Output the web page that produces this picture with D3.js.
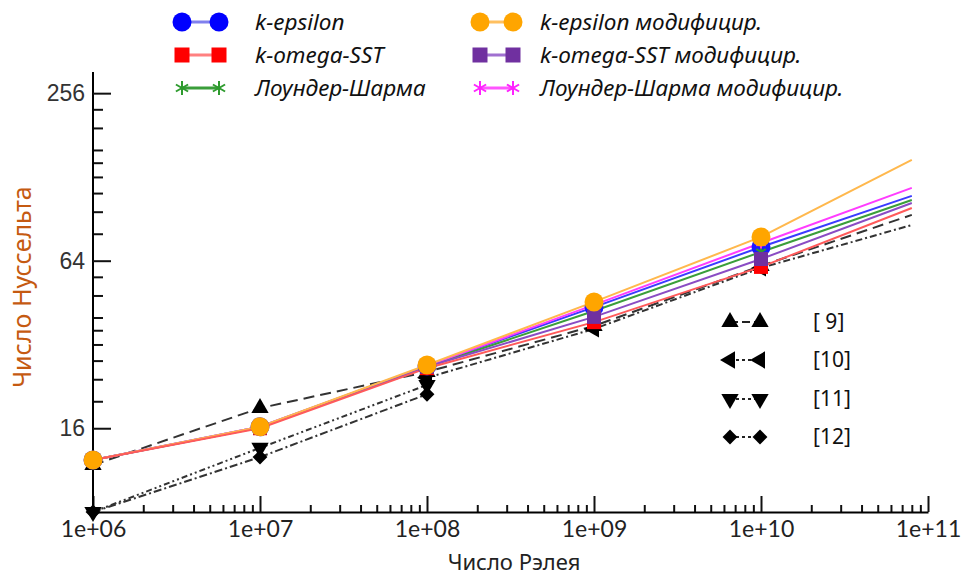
<!DOCTYPE html>
<html>
<head>
<meta charset="utf-8">
<script src="https://cdn.jsdelivr.net/npm/d3@7"></script>
<style>
  html, body { margin: 0; padding: 0; background: #fff; }
  svg { display: block; }
</style>
</head>
<body>
<svg id="chart" width="963" height="579"></svg>
<script>
// ---------------- DATA ----------------
const raPoints = [1e6, 1e7, 1e8, 1e9, 1e10, 8e10];
const kEpsilon         = [12.3, 16.2, 26.8, 43.6, 71.7, 109.4];
const kOmegaSST        = [12.3, 16.0, 26.3, 38.5, 60.8, 99.0];
const launderSharma    = [12.3, 16.1, 26.6, 42.2, 68.8, 105.8];
const kEpsilonMod      = [12.3, 16.2, 27.0, 45.5, 77.9, 147.4];
const kOmegaSSTMod     = [12.3, 16.1, 26.6, 40.2, 64.9, 103.2];
const launderSharmaMod = [12.3, 16.2, 26.8, 44.4, 74.1, 116.9];

const ref9Ra  = [1e6, 1e7, 1e8, 1e9, 1e10, 8e10];
const ref9    = [11.8, 18.9, 25.5, 37.3, 61.3, 93.5];
const ref10Ra = [1e8, 1e9, 1e10, 8e10];
const ref10   = [24.3, 36.4, 60.3, 86.0];
const ref11Ra = [1e6, 1e7, 1e8];
const ref11   = [8.0, 13.6, 22.9];
const ref12Ra = [1e6, 1e7, 1e8];
const ref12   = [8.0, 12.6, 21.2];

const xMajorTicks = [1e6, 1e7, 1e8, 1e9, 1e10, 1e11];
const xTickLabels = ["1e+06", "1e+07", "1e+08", "1e+09", "1e+10", "1e+11"];
const yMajorTicks = [16, 64, 256];
const yTickLabels = ["16", "64", "256"];
const yMinorTicks = [20, 24, 28, 32, 36, 40, 48, 56, 80, 96, 112, 128, 144, 160, 192, 224];

const seriesNames = ["k-epsilon", "k-omega-SST", "Лоундер-Шарма",
                     "k-epsilon  модифицир.", "k-omega-SST  модифицир.", "Лоундер-Шарма модифицир."];
const refNames = ["[ 9]", "[10]", "[11]", "[12]"];
const xTitle = "Число Рэлея";
const yTitle = "Число Нуссельта";

// ---------------- SETUP ----------------
const svg = d3.select("#chart");
const X0 = 93, X1 = 928, Y0 = 512, Y1 = 72;
const x = d3.scaleLog().domain([1e6, 1e11]).range([X0, X1]);
const y = d3.scaleLog().base(2).domain([8, 305]).range([Y0, Y1]);

// axes
const xMinor = [];
for (let e = 6; e < 11; e++) for (let m = 2; m <= 9; m++) xMinor.push(m * Math.pow(10, e));

const gx = svg.append("g").attr("transform", `translate(0,${Y0})`);
gx.call(d3.axisBottom(x).tickValues(xMinor).tickFormat("").tickSizeInner(-7).tickSizeOuter(0));
gx.call(g => g.select(".domain").remove());
const gx2 = svg.append("g").attr("transform", `translate(0,${Y0})`);
gx2.call(d3.axisBottom(x).tickValues(xMajorTicks)
  .tickFormat((d, i) => xTickLabels[i]).tickSizeInner(-16).tickSizeOuter(0).tickPadding(9));
gx2.select(".domain").attr("stroke-width", 2);
gx2.selectAll("text").attr("font-family", "Lato, 'Open Sans', sans-serif")
   .attr("font-size", 23).attr("fill", "#222");

const gy = svg.append("g").attr("transform", `translate(${X0},0)`);
gy.call(d3.axisLeft(y).tickValues(yMinorTicks).tickFormat("").tickSizeInner(-10).tickSizeOuter(0));
gy.select(".domain").remove();
const gy2 = svg.append("g").attr("transform", `translate(${X0},0)`);
gy2.call(d3.axisLeft(y).tickValues(yMajorTicks)
  .tickFormat((d, i) => yTickLabels[i]).tickSizeInner(-18).tickSizeOuter(0).tickPadding(8));
gy2.select(".domain").attr("stroke-width", 2);
gy2.selectAll("text").attr("font-family", "'Liberation Sans', Arial, sans-serif")
   .attr("font-size", 23).attr("fill", "#333");
svg.selectAll("g line").attr("stroke", "#111").attr("stroke-width", 2);
gy2.select(".domain").attr("d", `M0,${Y0}V${Y1}`);

// titles
svg.append("text").attr("x", 514).attr("y", 570).attr("text-anchor", "middle")
  .attr("font-family", "'Noto Sans', sans-serif").attr("font-size", 22).attr("fill", "#222")
  .text(xTitle);
svg.append("text").attr("transform", "translate(31,287) rotate(-90)").attr("text-anchor", "middle")
  .attr("font-family", "'Noto Sans', sans-serif").attr("font-size", 25).attr("fill", "#c55a11")
  .text(yTitle);

// ---------------- SERIES ----------------
const line = d3.line().x(d => x(d.ra)).y(d => y(d.nu));
const zip = (ras, vals) => ras.map((r, i) => ({ ra: r, nu: vals[i] }));

const symTri = d3.symbol().type(d3.symbolTriangle).size(130);
const symDiamond = d3.symbol().type(d3.symbolSquare).size(110);

function drawMarker(g, type, cx, cy, color, size) {
  if (type === "circle") {
    g.append("circle").attr("cx", cx).attr("cy", cy).attr("r", size || 9).attr("fill", color);
  } else if (type === "square") {
    const s = size || 15;
    g.append("rect").attr("x", cx - s / 2).attr("y", cy - s / 2).attr("width", s).attr("height", s).attr("fill", color);
  } else if (type === "asterisk") {
    const r = size || 7;
    const p = [[0, -r, 0, r], [-r * 0.87, -r * 0.5, r * 0.87, r * 0.5], [-r * 0.87, r * 0.5, r * 0.87, -r * 0.5]];
    p.forEach(a => g.append("line").attr("x1", cx + a[0]).attr("y1", cy + a[1]).attr("x2", cx + a[2]).attr("y2", cy + a[3])
      .attr("stroke", color).attr("stroke-width", 2));
  } else if (type === "up" || type === "down" || type === "left") {
    const rot = type === "up" ? 0 : type === "down" ? 180 : -90;
    g.append("path").attr("d", symTri()).attr("transform", `translate(${cx},${cy}) rotate(${rot})`).attr("fill", "#000");
  } else if (type === "diamond") {
    g.append("path").attr("d", symDiamond()).attr("transform", `translate(${cx},${cy}) rotate(45)`).attr("fill", "#000");
  }
}

// reference (black) series
const refs = [
  { ra: ref9Ra, v: ref9, dash: "11,6", marker: "up" },
  { ra: ref10Ra, v: ref10, dash: "7,3,2,3", marker: "left" },
  { ra: ref11Ra, v: ref11, dash: "6,3,2,3,2,3", marker: "down" },
  { ra: ref12Ra, v: ref12, dash: "8,3,2,3", marker: "diamond" }
];
const gRef = svg.append("g");
refs.forEach(s => {
  gRef.append("path").datum(zip(s.ra, s.v)).attr("d", line).attr("fill", "none")
    .attr("stroke", "#333").attr("stroke-width", 2).attr("stroke-dasharray", s.dash);
});
refs.forEach(s => {
  zip(s.ra, s.v).forEach(d => { if (d.ra <= 1e10) drawMarker(gRef, s.marker, x(d.ra), y(d.nu)); });
});

const series = [
  { v: kEpsilon, color: "#1a1aff", lineColor: "#3b3bff", marker: "circle" },
  { v: launderSharma, color: "#2e9b2e", lineColor: "#3a9e3a", marker: "asterisk" },
  { v: launderSharmaMod, color: "#ff22ff", lineColor: "#ff3cff", marker: "asterisk" },
  { v: kOmegaSSTMod, color: "#7030a0", lineColor: "#8a4cc4", marker: "square" },
  { v: kEpsilonMod, color: "#ffa500", lineColor: "#ffb84d", marker: "circle" },
  { v: kOmegaSST, color: "#ff0000", lineColor: "#ff5a5a", marker: "square" }
];
const gS = svg.append("g");
series.forEach(s => {
  gS.append("path").datum(zip(raPoints, s.v)).attr("d", line).attr("fill", "none")
    .attr("stroke", s.lineColor).attr("stroke-width", 2);
});
// markers order: blue, green, magenta, red, purple, orange on top
[0, 1, 2, 5, 3, 4].forEach(i => {
  const s = series[i];
  const sz = s.marker === "circle" ? 9.5 : (s.marker === "square" ? 14 : 5.5);
  zip(raPoints, s.v).forEach(d => { if (d.ra <= 1e10) drawMarker(gS, s.marker, x(d.ra), y(d.nu), s.color, sz); });
});

// ---------------- LEGENDS ----------------
const legend = [
  { name: seriesNames[0], color: "#0000ff", lc: "#8080ee", marker: "circle", col: 0, row: 0 },
  { name: seriesNames[1], color: "#ff0000", lc: "#ff8080", marker: "square", col: 0, row: 1 },
  { name: seriesNames[2], color: "#2e9b2e", lc: "#3a9e3a", marker: "asterisk", col: 0, row: 2 },
  { name: seriesNames[3], color: "#ffa500", lc: "#ffc060", marker: "circle", col: 1, row: 0 },
  { name: seriesNames[4], color: "#7030a0", lc: "#a070d0", marker: "square", col: 1, row: 1 },
  { name: seriesNames[5], color: "#ff22ff", lc: "#ff55ff", marker: "asterisk", col: 1, row: 2 }
];
const gL = svg.append("g");
const colX = [[182, 219, 255], [480, 513, 540]];
const rowY = [22, 55, 88];
legend.forEach(l => {
  const [a, b, t] = colX[l.col];
  const yy = rowY[l.row];
  gL.append("line").attr("x1", a).attr("x2", b).attr("y1", yy).attr("y2", yy).attr("stroke", l.lc).attr("stroke-width", 3);
  const sz = l.marker === "circle" ? 9.5 : (l.marker === "square" ? 15 : 7);
  drawMarker(gL, l.marker, a, yy, l.color, sz);
  drawMarker(gL, l.marker, b, yy, l.color, sz);
  gL.append("text").attr("x", t).attr("y", yy).attr("dy", "0.35em")
    .attr("font-family", "'Noto Sans', sans-serif").attr("font-style", "italic").attr("font-size", 22.5)
    .attr("fill", "#111").text(l.name);
});

const refRowY = [322, 360, 399, 437];
refs.forEach((s, i) => {
  const yy = refRowY[i];
  gL.append("line").attr("x1", 730).attr("x2", 760).attr("y1", yy).attr("y2", yy)
    .attr("stroke", "#222").attr("stroke-width", 2).attr("stroke-dasharray", i === 0 ? "8,4" : "3,3");
  drawMarker(gL, s.marker, 730, yy);
  drawMarker(gL, s.marker, 760, yy);
  gL.append("text").attr("x", 813).attr("y", yy).attr("dy", "0.35em")
    .attr("font-family", "'Noto Sans', sans-serif").attr("font-size", 21).attr("fill", "#111")
    .text(refNames[i]);
});
</script>
</body>
</html>
